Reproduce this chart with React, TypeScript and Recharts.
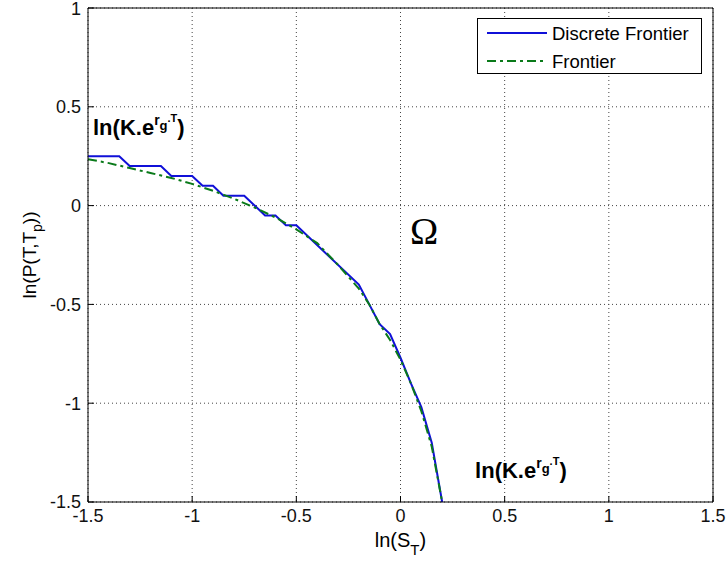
import {
  LineChart,
  Line,
  XAxis,
  YAxis,
  CartesianGrid,
  Legend,
  ReferenceDot,
} from "recharts";

// tick values
const xTicks = [-1.5, -1, -0.5, 0, 0.5, 1, 1.5];
const yTicks = [-1.5, -1, -0.5, 0, 0.5, 1];

// discrete frontier (staircase)
const discreteX = [-1.5, -1.35, -1.3, -1.15, -1.1, -1.0, -0.95, -0.9, -0.85, -0.75, -0.65, -0.6, -0.55, -0.5, -0.2, -0.1, -0.05, 0, 0.05, 0.1, 0.15, 0.2];
const discreteY = [0.25, 0.25, 0.2, 0.2, 0.15, 0.15, 0.1, 0.1, 0.05, 0.05, -0.05, -0.05, -0.1, -0.1, -0.4, -0.6, -0.65, -0.77, -0.9, -1.02, -1.2, -1.5];

// continuous frontier
const frontierX = [-1.5, -1.4, -1.3, -1.2, -1.1, -1.0, -0.9, -0.8, -0.7, -0.6, -0.5, -0.4, -0.3, -0.2, -0.15, -0.1, -0.05, 0, 0.05, 0.1, 0.15, 0.2];
const frontierY = [0.235, 0.215, 0.19, 0.165, 0.14, 0.11, 0.075, 0.035, -0.01, -0.06, -0.12, -0.19, -0.3, -0.42, -0.5, -0.6, -0.68, -0.78, -0.9, -1.04, -1.22, -1.5];

// text annotations (data coords of the text start / baseline)
const kLabels = [
  { x: -1.476, y: 0.356 },
  { x: 0.358, y: -1.381 },
];
const omegaAt = { x: 0.046, y: -0.193 };

const discreteData = discreteX.map((x, i) => ({ x, y: discreteY[i] }));
const frontierData = frontierX.map((x, i) => ({ x, y: frontierY[i] }));

const FONT = '"Liberation Sans", Arial, Helvetica, sans-serif';
const BLUE = "#1010d8";
const GREEN = "#0a7a1a";
const DASH_DOT = "9 4 3 4";

const KText = (props: any) => {
  const { cx, cy } = props;
  return (
    <text x={cx} y={cy} fontFamily={FONT} fontWeight="bold" fontSize={22} fill="#000">
      ln(K.e
      <tspan fontSize={14} dy={-10}>r</tspan>
      <tspan fontSize={13} dy={5}>g</tspan>
      <tspan fontSize={11} dy={-8}>.T</tspan>
      <tspan fontSize={22} dy={13}>)</tspan>
    </text>
  );
};

const OmegaText = (props: any) => {
  const { cx, cy } = props;
  return (
    <text x={cx} y={cy} fontFamily='"Liberation Serif", "Times New Roman", serif' fontSize={38} fill="#000">
      Ω
    </text>
  );
};

const XLabel = (props: any) => {
  const { x, y, width } = props.viewBox;
  return (
    <text x={x + width / 2} y={y + 45} textAnchor="middle" fontFamily={FONT} fontSize={20} fill="#000">
      ln(S<tspan fontSize={15} dy={8}>T</tspan>
      <tspan fontSize={20} dy={-8}>)</tspan>
    </text>
  );
};

const YLabel = (props: any) => {
  const { y, height } = props.viewBox;
  const cx = 36;
  const cy = y + height / 2;
  return (
    <text
      x={cx}
      y={cy}
      textAnchor="middle"
      transform={`rotate(-90 ${cx} ${cy})`}
      fontFamily={FONT}
      fontSize={19}
      fill="#000"
    >
      ln(P(T,T<tspan fontSize={14} dy={6}>p</tspan>
      <tspan fontSize={19} dy={-6}>))</tspan>
    </text>
  );
};

// y tick label, kept inside the picture at the top edge
const YTick = (props: any) => {
  const { x, y, payload } = props;
  return (
    <text x={x} y={Math.max(y, 9)} dy="0.355em" textAnchor="end" fontFamily={FONT} fontSize={18} fill="#111">
      {payload.value}
    </text>
  );
};

const LegendBox = (props: any) => {
  const items = props.payload ?? [];
  return (
    <svg width={225} height={56}>
      <rect x={0.5} y={0.5} width={224} height={55} fill="#fff" stroke="#000" />
      {items.map((it: any, i: number) => (
        <g key={i}>
          <line
            x1={10}
            x2={70}
            y1={15 + i * 28}
            y2={15 + i * 28}
            stroke={it.color}
            strokeWidth={2}
            strokeDasharray={i === 1 ? DASH_DOT : undefined}
          />
          <text x={75} y={15 + i * 28} dy="0.36em" fontFamily={FONT} fontSize={18.5} fill="#000">
            {it.value}
          </text>
        </g>
      ))}
    </svg>
  );
};

const tickStyle = { fontFamily: FONT, fontSize: 18, fill: "#111" };

export default function App() {
  return (
    <div style={{ width: 727, height: 563, background: "#fff" }}>
      <style>{"body{margin:0}"}</style>
      <LineChart width={727} height={563} margin={{ top: 7, right: 13, left: 0, bottom: 0 }}>
        <CartesianGrid stroke="#444" strokeDasharray="1 3" />
        <XAxis
          dataKey="x"
          type="number"
          domain={[-1.5, 1.5]}
          ticks={xTicks}
          interval={0}
          height={61}
          axisLine={{ stroke: "#000" }}
          tickLine={{ stroke: "#000" }}
          tickSize={-6}
          tickMargin={13}
          tick={tickStyle}
          label={<XLabel />}
        />
        <XAxis
          xAxisId="top"
          orientation="top"
          type="number"
          domain={[-1.5, 1.5]}
          ticks={xTicks}
          interval={0}
          height={1}
          axisLine={{ stroke: "#000" }}
          tickLine={{ stroke: "#000" }}
          tickSize={-6}
          tick={false}
        />
        <YAxis
          type="number"
          domain={[-1.5, 1]}
          ticks={yTicks}
          interval={0}
          width={88}
          axisLine={{ stroke: "#000" }}
          tickLine={{ stroke: "#000" }}
          tickSize={-6}
          tickMargin={13}
          tick={<YTick />}
          label={<YLabel />}
        />
        <YAxis
          yAxisId="right"
          orientation="right"
          type="number"
          domain={[-1.5, 1]}
          ticks={yTicks}
          interval={0}
          width={1}
          axisLine={{ stroke: "#000" }}
          tickLine={{ stroke: "#000" }}
          tickSize={-6}
          tick={false}
        />
        <Line
          data={discreteData}
          dataKey="y"
          name="Discrete Frontier"
          type="linear"
          stroke={BLUE}
          strokeWidth={2}
          dot={false}
          activeDot={false}
          isAnimationActive={false}
        />
        <Line
          data={frontierData}
          dataKey="y"
          name="Frontier"
          type="linear"
          stroke={GREEN}
          strokeWidth={2}
          strokeDasharray={DASH_DOT}
          dot={false}
          activeDot={false}
          isAnimationActive={false}
        />
        {kLabels.map((p, i) => (
          <ReferenceDot key={i} x={p.x} y={p.y} r={0} ifOverflow="visible" shape={<KText />} />
        ))}
        <ReferenceDot x={omegaAt.x} y={omegaAt.y} r={0} ifOverflow="visible" shape={<OmegaText />} />
        <Legend
          layout="horizontal"
          verticalAlign="middle"
          align="center"
          content={<LegendBox />}
          wrapperStyle={{ left: 477, top: 18, width: 225, height: 56 }}
        />
      </LineChart>
    </div>
  );
}
